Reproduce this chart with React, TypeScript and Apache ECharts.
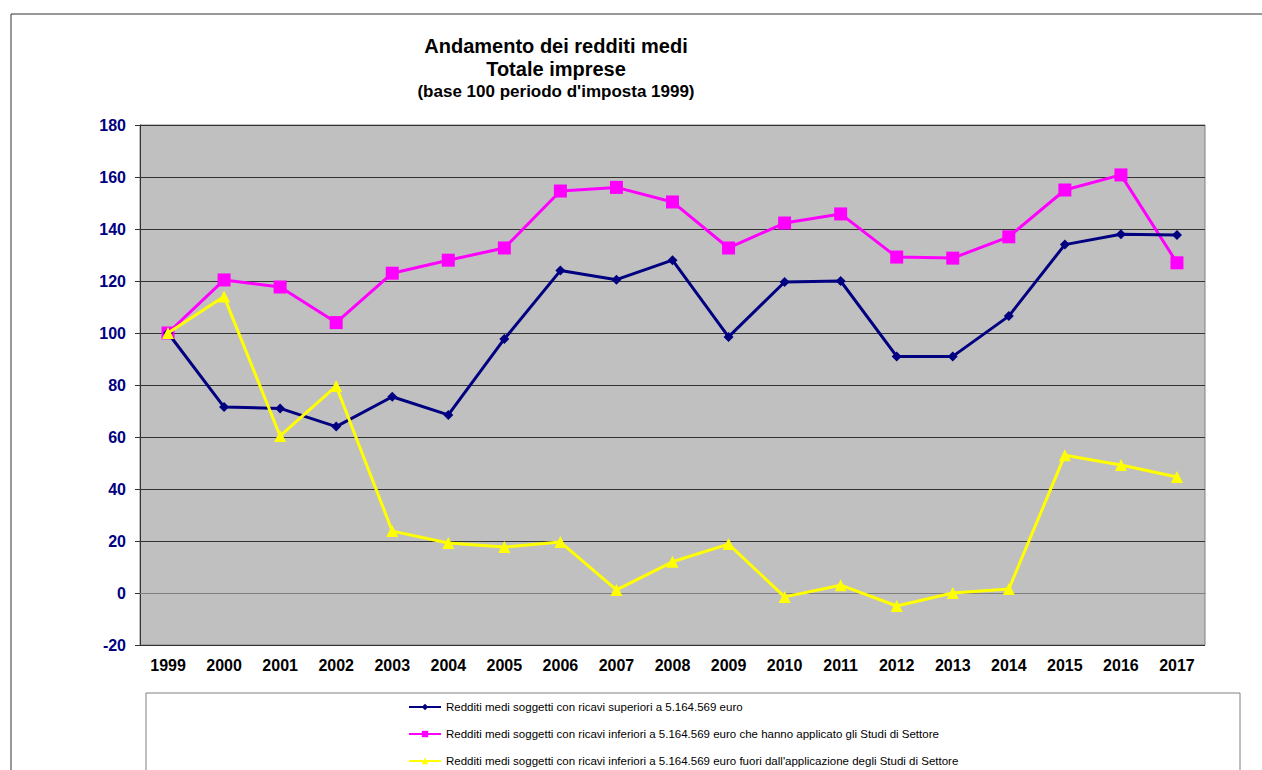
import React, { useEffect, useRef } from "react";
import * as echarts from "echarts";

const years = ["1999","2000","2001","2002","2003","2004","2005","2006","2007","2008","2009","2010","2011","2012","2013","2014","2015","2016","2017"];
const superiori = [100, 71.5, 71, 64, 75.5, 68.5, 97.7, 124, 120.5, 128, 98.5, 119.6, 120, 91, 91, 106.5, 134, 138, 137.7];
const inferioriStudi = [100, 120.4, 117.7, 104, 123, 128, 132.7, 154.6, 156, 150.4, 132.7, 142.3, 145.8, 129.2, 128.8, 137, 155, 160.8, 127];
const inferioriFuori = [100, 114, 60.4, 79.6, 23.8, 19.2, 17.7, 19.6, 1.2, 12, 18.8, -1.5, 3, -5, 0, 1.5, 53, 49.2, 44.6];
const seriesNames = [
  "Redditi medi soggetti con ricavi superiori a 5.164.569 euro",
  "Redditi medi soggetti con ricavi inferiori a 5.164.569 euro che hanno applicato gli Studi di Settore",
  "Redditi medi soggetti con ricavi inferiori a 5.164.569 euro fuori dall'applicazione degli Studi di Settore",
];

const FONT = "'Liberation Sans', Arial, sans-serif";
const legendTops = [701, 728, 755];

export default function App() {
  const ref = useRef<HTMLDivElement>(null);
  useEffect(() => {
    if (!ref.current) return;
    const chart = echarts.init(ref.current, null, { renderer: "svg" });
    chart.setOption({
      animation: false,
      backgroundColor: "#ffffff",
      textStyle: { fontFamily: FONT },
      title: {
        text: "Andamento dei redditi medi\nTotale imprese",
        subtext: "(base 100 periodo d'imposta 1999)",
        left: 551,
        top: 29,
        textAlign: "center",
        itemGap: 2,
        textStyle: { fontFamily: FONT, fontSize: 20, fontWeight: "bold", color: "#000", lineHeight: 23 },
        subtextStyle: { fontFamily: FONT, fontSize: 17, fontWeight: "bold", color: "#000", lineHeight: 19 },
      },
      graphic: [
        { type: "rect", z: -10, shape: { x: 11, y: 14, width: 1300, height: 800 }, style: { fill: "none", stroke: "#333", lineWidth: 1 } },
        { type: "rect", z: -10, shape: { x: 146, y: 693, width: 1094, height: 120 }, style: { fill: "#fff", stroke: "#808080", lineWidth: 1 } },
      ],
      legend: seriesNames.map((n, i) => ({
        orient: "vertical",
        left: 408,
        top: legendTops[i],
        padding: 0,
        itemWidth: 32,
        itemHeight: 8,
        textStyle: { fontFamily: "'Liberation Sans Narrow', " + FONT, fontSize: 11.5, color: "#000", lineHeight: 12 },
        data: [n],
      })),
      grid: {
        left: 140,
        top: 125,
        width: 1065,
        height: 520,
        show: true,
        backgroundColor: "#C0C0C0",
        borderColor: "#808080",
        borderWidth: 1,
      },
      xAxis: {
        type: "category",
        data: years,
        boundaryGap: true,
        axisTick: { show: false },
        axisLine: { lineStyle: { color: "#808080", width: 1 } },
        axisLabel: { fontFamily: FONT, fontSize: 16, fontWeight: "bold", color: "#000", margin: 12 },
      },
      yAxis: {
        type: "value",
        min: -20,
        max: 180,
        interval: 20,
        axisLine: { show: true, lineStyle: { color: "#333", width: 1 } },
        axisTick: { show: true, length: 5, lineStyle: { color: "#333" } },
        axisLabel: { fontFamily: FONT, fontSize: 16, fontWeight: "bold", color: "#000080", margin: 14 },
        splitLine: { lineStyle: { color: "#333", width: 1 } },
      },
      series: [
        {
          name: seriesNames[0],
          type: "line",
          data: superiori,
          symbol: "diamond",
          symbolSize: 10,
          lineStyle: { color: "#000080", width: 3 },
          itemStyle: { color: "#000080" },
          z: 3,
        },
        {
          name: seriesNames[1],
          type: "line",
          data: inferioriStudi,
          symbol: "rect",
          symbolSize: 13,
          lineStyle: { color: "#FF00FF", width: 3 },
          itemStyle: { color: "#FF00FF" },
          z: 2,
        },
        {
          name: seriesNames[2],
          type: "line",
          data: inferioriFuori,
          symbol: "triangle",
          symbolSize: 12,
          lineStyle: { color: "#FFFF00", width: 3 },
          itemStyle: { color: "#FFFF00" },
          z: 4,
        },
      ],
    });
    return () => chart.dispose();
  }, []);
  return <div ref={ref} style={{ position: "fixed", left: 0, top: 0, width: 1262, height: 770 }} />;
}
